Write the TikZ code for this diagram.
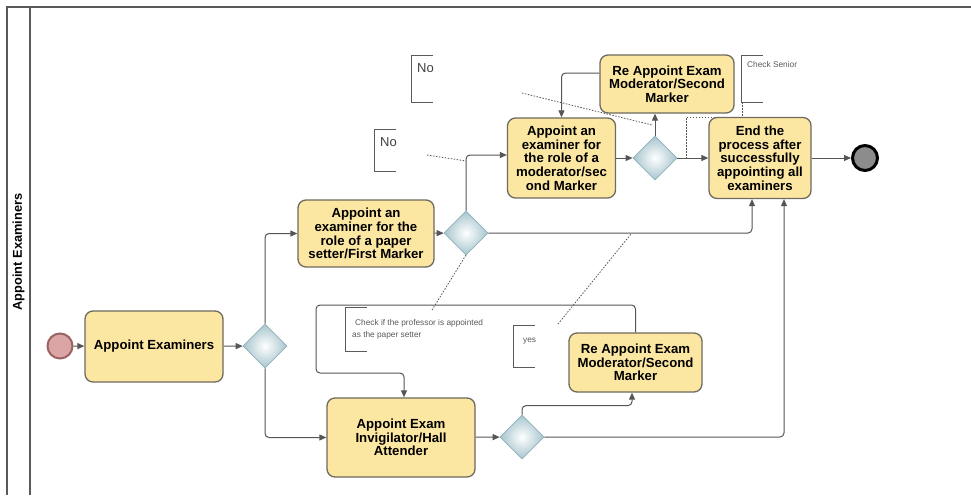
\documentclass[tikz,border=0pt]{standalone}
\usepackage{fontspec}
\setmainfont{Liberation Sans}
\usetikzlibrary{shapes.geometric,arrows.meta}
\definecolor{taskfill}{HTML}{FCE7A2}
\definecolor{taskdraw}{HTML}{6E6A5E}
\definecolor{gwfill}{HTML}{A6C5CE}
\definecolor{gwdraw}{HTML}{8FB0B8}
\definecolor{flow}{HTML}{555555}
\definecolor{frame}{HTML}{5A5A5A}
\definecolor{annot}{HTML}{555555}
\definecolor{startfill}{HTML}{DBA5A5}
\definecolor{startdraw}{HTML}{9A6262}
\definecolor{endfill}{HTML}{8C8C8C}
\begin{document}
\begin{tikzpicture}[x=1pt,y=-1pt,
  task/.style={draw=taskdraw, line width=1.3pt, fill=taskfill, rounded corners=8pt,
    align=center, font=\fontsize{13.2}{13.7}\selectfont\bfseries, inner sep=0pt},
  gw/.style={diamond, draw=gwdraw, line width=0.8pt, inner color=white, outer color=gwfill,
    minimum width=44pt, minimum height=44pt, inner sep=0pt},
  flowline/.style={draw=flow, line width=1pt, rounded corners=4pt,
    -{Triangle[length=7pt,width=6pt]}},
  assoc/.style={draw=annot, line width=0.8pt, dash pattern=on 1.5pt off 1.5pt},
  bracket/.style={draw=frame, line width=1pt},
  bignote/.style={anchor=base west, inner sep=0pt, font=\fontsize{13}{15}\selectfont, text=black!75},
  smallnote/.style={anchor=base west, inner sep=0pt, font=\fontsize{8.3}{10}\selectfont, text=black!65},
  ]
\useasboundingbox (0,0) rectangle (971,495);

% pool
\draw[frame, line width=1.5pt] (971,7) -- (7,7) -- (7,495);
\draw[frame, line width=1.5pt] (30,7) -- (30,495);
\node[rotate=90, font=\fontsize{12.8}{14}\selectfont\bfseries] (lane) at (18.5,252) {Appoint Examiners};

% associations (behind)
\coordinate (a1s) at (522,93);  \coordinate (a1e) at (652,125);
\coordinate (a2s) at (427,155); \coordinate (a2e) at (466,161);
\coordinate (a3s) at (742,102); \coordinate (a3e) at (686,158);
\coordinate (a4s) at (432,310); \coordinate (a4e) at (466,255);
\coordinate (a5s) at (558,324); \coordinate (a5e) at (631,234);
\draw[assoc] (a1s) -- (a1e);
\draw[assoc] (a2s) -- (a2e);
\draw[assoc] (a3s) -- (742,117) -- (686,117) -- (a3e);
\draw[assoc] (a4s) -- (a4e);
\draw[assoc] (a5s) -- (a5e);

% annotations
\draw[bracket] (433,56) -- (411,56) -- (411,102) -- (433,102);
\node[bignote] (no1) at (417,73) {No};
\draw[bracket] (396,129) -- (374,129) -- (374,171) -- (396,171);
\node[bignote] (no2) at (380,146) {No};
\draw[bracket] (763,56) -- (741,56) -- (741,102) -- (763,102);
\node[smallnote] (senior) at (747,67) {Check Senior};
\draw[bracket] (367,307) -- (345,307) -- (345,351) -- (367,351);
\node[smallnote] (chk1) at (355,325) {Check if the professor is appointed};
\node[smallnote] (chk2) at (352,337) {as the paper setter};
\draw[bracket] (535,325) -- (513,325) -- (513,367) -- (535,367);
\node[smallnote] (yes) at (523,342) {yes};

% events
\node[circle, draw=startdraw, line width=2pt, fill=startfill, minimum size=25pt, inner sep=0pt] (start) at (60,346) {};
\node[circle, draw=black, line width=3pt, fill=endfill, minimum size=25pt, inner sep=0pt] (endev) at (865,158) {};

% tasks
\node[task, minimum width=138pt, minimum height=71pt] (t1) at (154,346.5) {Appoint Examiners};
\node[task, minimum width=136pt, minimum height=67pt] (t2) at (366,233.5) {Appoint an\\examiner for the\\role of a paper\\setter/First Marker};
\node[task, minimum width=108pt, minimum height=80pt] (t3) at (561.5,158) {Appoint an\\examiner for\\the role of a\\moderator/sec\\ond Marker};
\node[task, minimum width=134pt, minimum height=58pt] (rt) at (667,84) {Re Appoint Exam\\Moderator/Second\\Marker};
\node[task, minimum width=102pt, minimum height=81pt] (fin) at (760,158) {End the\\process after\\successfully\\appointing all\\examiners};
\node[task, minimum width=148pt, minimum height=79pt] (t4) at (401,437.5) {Appoint Exam\\Invigilator/Hall\\Attender};
\node[task, minimum width=133pt, minimum height=59pt] (rb) at (635.5,362.5) {Re Appoint Exam\\Moderator/Second\\Marker};

% gateways
\node[gw] (g1) at (265,346) {};
\node[gw] (g2) at (466,233) {};
\node[gw] (g3) at (655,158) {};
\node[gw] (g4) at (522,437) {};

% sequence flows
\draw[flowline] (start) -- (t1);
\draw[flowline] (t1) -- (g1);
\draw[flowline] (g1.north) |- (t2.west);
\draw[flowline] (g1.south) |- (t4.west);
\draw[flowline] (t2) -- (g2);
\draw[flowline] (g2.north) |- ([yshift=3pt]t3.west);
\draw[flowline] (g2.east) -| ([xshift=-8pt]fin.south);
\draw[flowline] (t3) -- (g3);
\draw[flowline] (g3.north) -- (g3.north |- rt.south);
\draw[flowline] (g3) -- (fin);
\draw[flowline] (fin) -- (endev);
\draw[flowline] ([yshift=11pt]rt.west) -| (t3.north);
\draw[flowline] (t4) -- (g4);
\draw[flowline] (g4.north) -- ++(0,-9) -| ([xshift=-3.5pt]rb.south);
\draw[flowline] (g4.east) -| ([xshift=24pt]fin.south);
\draw[flowline] (rb.north) |- (316,305) -- (316,373) -| ([xshift=3pt]t4.north);
\end{tikzpicture}
\end{document}
